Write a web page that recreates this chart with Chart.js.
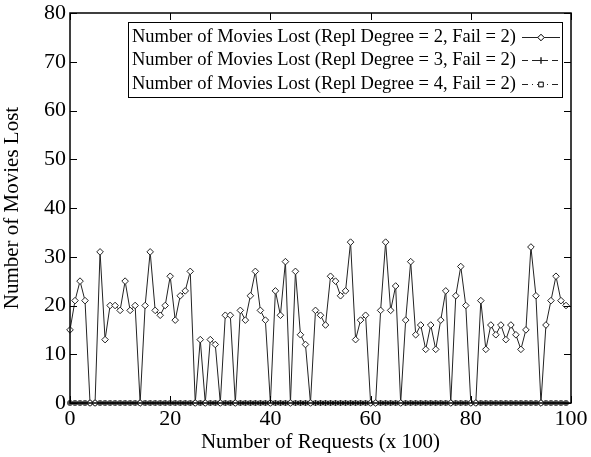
<!DOCTYPE html>
<html lang="en">
<head>
<meta charset="UTF-8">
<title>Number of Movies Lost</title>
<script src="https://cdn.jsdelivr.net/npm/chart.js"></script>
<style>
  body { margin: 0; background: #fff; }
  #wrap { width: 591px; height: 457px; }
</style>
</head>
<body>
<div id="wrap"><canvas id="myChart" width="591" height="457"></canvas></div>

<script>
// data
const requests = [];
for (let i = 0; i < 100; i++) requests.push(i);

const lostRepl2 = [15, 21, 25, 21, 0, 0, 31, 13, 20, 20,
                   19, 25, 19, 20, 0, 20, 31, 19, 18, 20,
                   26, 17, 22, 23, 27, 0, 13, 0, 13, 12,
                   0, 18, 18, 0, 19, 17, 22, 27, 19, 17,
                   0, 23, 18, 29, 0, 27, 14, 12, 0, 19,
                   18, 16, 26, 25, 22, 23, 33, 13, 17, 18,
                   0, 0, 19, 33, 19, 24, 0, 17, 29, 14,
                   16, 11, 16, 11, 17, 23, 0, 22, 28, 20,
                   0, 0, 21, 11, 16, 14, 16, 13, 16, 14,
                   11, 15, 32, 22, 0, 16, 21, 26, 21, 20];
const lostRepl3 = new Array(100).fill(0);
const lostRepl4 = new Array(100).fill(0);

const seriesLabels = [
  'Number of Movies Lost (Repl Degree = 2, Fail = 2)',
  'Number of Movies Lost (Repl Degree = 3, Fail = 2)',
  'Number of Movies Lost (Repl Degree = 4, Fail = 2)'
];
const xTicks = [0, 20, 40, 60, 80, 100];
const yTicks = [0, 10, 20, 30, 40, 50, 60, 70, 80];

function toPoints(vals) {
  return vals.map(function (v, i) { return { x: requests[i], y: v }; });
}

const SERIF = '"Liberation Serif", "DejaVu Serif", serif';

// frame, inward ticks and legend box, gnuplot style
const framePlugin = {
  id: 'frame',
  afterDraw(chart) {
    const ctx = chart.ctx;
    const a = chart.chartArea;
    const xs = chart.scales.x, ys = chart.scales.y;
    ctx.save();
    ctx.strokeStyle = '#000';
    ctx.lineWidth = 1.5;
    ctx.strokeRect(a.left, a.top, a.right - a.left, a.bottom - a.top);
    ctx.lineWidth = 1;
    const t = 7;
    ctx.beginPath();
    xTicks.forEach(function (v) {
      const px = Math.round(xs.getPixelForValue(v)) + 0.5;
      ctx.moveTo(px, a.bottom); ctx.lineTo(px, a.bottom - t);
      ctx.moveTo(px, a.top); ctx.lineTo(px, a.top + t);
    });
    yTicks.forEach(function (v) {
      const py = Math.round(ys.getPixelForValue(v)) + 0.5;
      ctx.moveTo(a.left, py); ctx.lineTo(a.left + t, py);
      ctx.moveTo(a.right, py); ctx.lineTo(a.right - t, py);
    });
    ctx.stroke();

    // legend
    const boxL = 128, boxR = 562, boxT = 22, boxB = 97;
    ctx.fillStyle = '#fff';
    ctx.fillRect(boxL, boxT, boxR - boxL, boxB - boxT);
    ctx.strokeRect(boxL + 0.5, boxT + 0.5, boxR - boxL, boxB - boxT);
    ctx.font = '18.5px ' + SERIF;
    ctx.textAlign = 'right';
    ctx.textBaseline = 'middle';
    const rows = [37, 60, 84];
    const dashes = [[], [6, 4], [6, 4, 1, 4]];
    const styles = ['rectRot', 'cross', 'rect'];
    rows.forEach(function (ry, i) {
      ctx.fillStyle = '#000';
      ctx.fillText(seriesLabels[i], 516, ry);
      ctx.setLineDash(dashes[i]);
      ctx.strokeStyle = '#222';
      ctx.beginPath();
      ctx.moveTo(522, ry + 0.5); ctx.lineTo(560, ry + 0.5);
      ctx.stroke();
      ctx.setLineDash([]);
      Chart.helpers.drawPoint(ctx, {
        pointStyle: styles[i], radius: 3.2, borderWidth: 1
      }, 541, ry + 0.5);
      ctx.fillStyle = '#fff';
      ctx.fill();
      ctx.stroke();
    });
    ctx.restore();
  }
};

const config = {
  type: 'line',
  data: {
    datasets: [
      {
        label: seriesLabels[0],
        data: toPoints(lostRepl2),
        borderColor: '#222',
        borderWidth: 1,
        pointStyle: 'rectRot',
        pointRadius: 3.3,
        pointBorderWidth: 1,
        pointBackgroundColor: '#fff',
        pointBorderColor: '#222',
        tension: 0
      },
      {
        label: seriesLabels[1],
        data: toPoints(lostRepl3),
        borderColor: '#222',
        borderWidth: 1,
        borderDash: [6, 4],
        pointStyle: 'cross',
        pointRadius: 3,
        pointBorderWidth: 1,
        pointBorderColor: '#222',
        tension: 0
      },
      {
        label: seriesLabels[2],
        data: toPoints(lostRepl4),
        borderColor: '#222',
        borderWidth: 1,
        borderDash: [6, 4, 1, 4],
        pointStyle: 'rect',
        pointRadius: 2.8,
        pointBorderWidth: 1,
        pointBackgroundColor: '#fff',
        pointBorderColor: '#222',
        tension: 0
      }
    ]
  },
  options: {
    responsive: false,
    animation: false,
    clip: false,
    layout: { padding: { top: 13, right: 20, left: 0, bottom: 0 } },
    plugins: {
      legend: { display: false },
      tooltip: { enabled: false }
    },
    scales: {
      x: {
        type: 'linear',
        min: 0,
        max: 100,
        afterBuildTicks(s) { s.ticks = xTicks.map(function (v) { return { value: v }; }); },
        afterFit(s) { s.height = 54; },
        grid: { display: false, drawTicks: false },
        border: { display: false },
        ticks: { color: '#000', padding: 3, maxRotation: 0, font: { family: SERIF, size: 22 } },
        title: {
          display: true,
          text: 'Number of Requests (x 100)',
          color: '#000',
          padding: { top: 0, bottom: 2 },
          font: { family: SERIF, size: 21 }
        }
      },
      y: {
        min: 0,
        max: 80,
        afterBuildTicks(s) { s.ticks = yTicks.map(function (v) { return { value: v }; }); },
        afterFit(s) { s.width = 70; s.paddingTop = 0; s.paddingBottom = 0; },
        grid: { display: false, drawTicks: false },
        border: { display: false },
        ticks: { color: '#000', padding: 4, font: { family: SERIF, size: 22 } },
        title: {
          display: true,
          text: 'Number of Movies Lost',
          color: '#000',
          padding: { top: 0, bottom: 6 },
          font: { family: SERIF, size: 21 }
        }
      }
    }
  },
  plugins: [framePlugin]
};

let myChart = new Chart(document.getElementById('myChart'), config);
</script>
</body>
</html>
